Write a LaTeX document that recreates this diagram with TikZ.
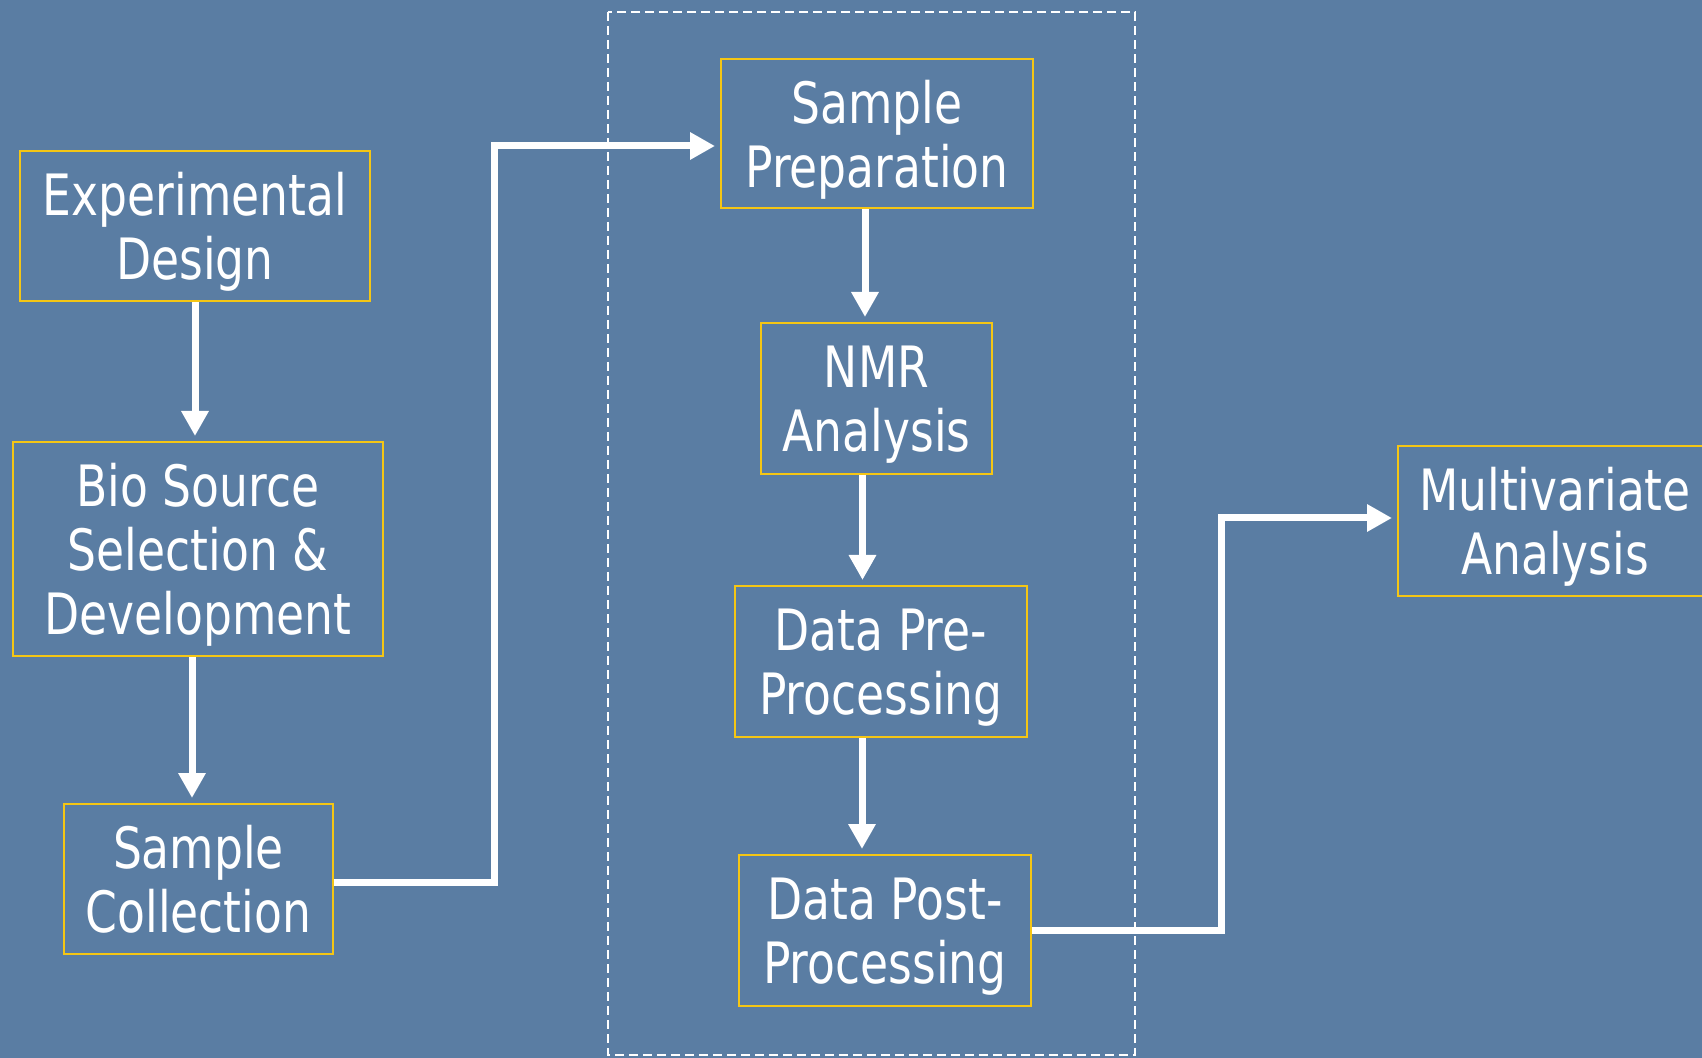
\documentclass[tikz,border=0pt]{standalone}
\usepackage{fontspec}
\setmainfont{DejaVu Sans}[FakeStretch=0.8]
\usetikzlibrary{arrows.meta}
\definecolor{slateblue}{RGB}{90,125,163}
\definecolor{boxgold}{RGB}{245,198,20}

\begin{document}
\begin{tikzpicture}[x=0.5pt, y=-0.5pt,
    stage/.style={draw=boxgold, line width=1pt, text=white, align=center, inner sep=0pt,
        text depth=0pt, font=\fontsize{28.5pt}{32pt}\selectfont},
    flow/.style={draw=white, line width=3.5pt, -{Triangle[length=12.5pt, width=13pt]}, shorten >=2.5pt}]
    % Background
    \clip (0,0) rectangle (1702,1058);
    \fill[slateblue] (0,0) rectangle (1702,1058);

    % Left column
    \node[stage, minimum width=175pt, minimum height=75pt] (design) at (195,226) {Experimental\\Design};
    \node[stage, minimum width=185pt, minimum height=107pt] (source) at (198,549) {Bio Source\\Selection \&\\Development};
    \node[stage, minimum width=134.5pt, minimum height=75pt] (collect) at (198.5,879) {Sample\\Collection};

    % Dashed frame round the middle column
    \draw[white, line width=1.2pt, dash pattern=on 4.5pt off 2.5pt] (608,12) rectangle (1135,1055);
    \node[stage, minimum width=156pt, minimum height=74.5pt] (prep) at (877,133.5) {Sample\\Preparation};
    \node[stage, minimum width=115.5pt, minimum height=75.5pt] (nmr) at (876.5,398.5) {NMR\\Analysis};
    \node[stage, minimum width=146pt, minimum height=75.5pt] (pre) at (881,661.5) {Data Pre-\\Processing};
    \node[stage, minimum width=146pt, minimum height=75.5pt] (post) at (885,930.5) {Data Post-\\Processing};

    % Right
    \node[stage, minimum width=157pt, minimum height=75pt] (multi) at (1555,521) {Multivariate\\Analysis};

    % Arrows
    \draw[flow] (design.south) -- (design.south |- source.north);
    \draw[flow] ([xshift=-3pt]source.south) -- ([xshift=-3pt]source.south |- collect.north);
    \coordinate (turnA) at (494,146);
    \draw[flow] ([yshift=-1.5pt]collect.east) -| (turnA) |- ([yshift=-6.25pt]prep.west);
    \draw[flow] ([xshift=-6pt]prep.south) -- ([xshift=-6pt]prep.south |- nmr.north);
    \draw[flow] ([xshift=-7pt]nmr.south) -- ([xshift=-7pt]nmr.south |- pre.north);
    \draw[flow] ([xshift=-9.5pt]pre.south) -- ([xshift=-9.5pt]pre.south |- post.north);
    \coordinate (turnB) at (1221,518);
    \draw[flow] (post.east) -| (turnB) |- ([yshift=1.5pt]multi.west);
\end{tikzpicture}
\end{document}
